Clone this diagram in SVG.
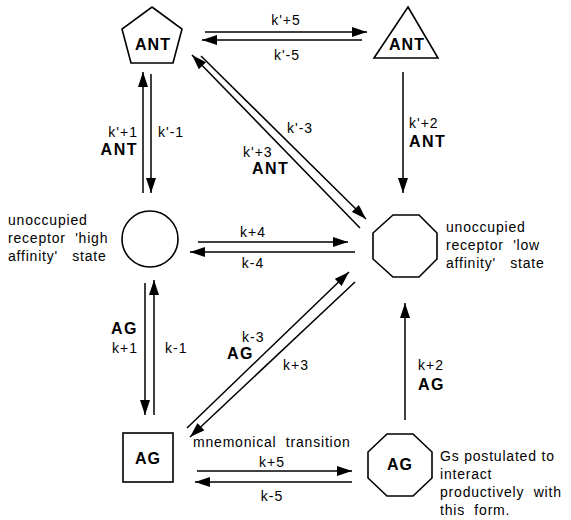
<svg xmlns="http://www.w3.org/2000/svg" width="571" height="520" viewBox="0 0 571 520">
<style>
text{font-family:"Liberation Sans",Arial,sans-serif;fill:#000}
.lb{font-size:14px;letter-spacing:1px}
.bd{font-size:16px;font-weight:bold;letter-spacing:1.5px}
.nd{font-size:16px;font-weight:bold;letter-spacing:1px;text-anchor:middle}
.tx{font-size:14px;letter-spacing:0.8px}
.sh{fill:#fff;stroke:#000;stroke-width:1.6}
.cn line{stroke:#000;stroke-width:1.5;marker-end:url(#ah)}
</style>
<defs>
<marker id="ah" markerWidth="15" markerHeight="10" refX="15" refY="5" orient="auto" markerUnits="userSpaceOnUse">
<path d="M0,0L15,5L0,10z" fill="#000"/>
</marker>
</defs>
<rect width="571" height="520" fill="#fff"/>

<g id="connectors" class="cn">
<line x1="205" y1="32" x2="367" y2="32"/>
<line x1="362" y1="40" x2="202" y2="40"/>
<line x1="143" y1="193" x2="143" y2="72"/>
<line x1="151" y1="74" x2="151" y2="193"/>
<line x1="360" y1="228" x2="192" y2="55"/>
<line x1="201" y1="56" x2="366" y2="219"/>
<line x1="403" y1="72" x2="403" y2="193"/>
<line x1="198" y1="242" x2="348" y2="242"/>
<line x1="355" y1="252" x2="190" y2="252"/>
<line x1="145" y1="283" x2="145" y2="415"/>
<line x1="154" y1="415" x2="154" y2="280"/>
<line x1="187" y1="428" x2="349" y2="272"/>
<line x1="355" y1="282" x2="190" y2="437"/>
<line x1="405" y1="420" x2="405" y2="303"/>
<line x1="197" y1="471" x2="352" y2="471"/>
<line x1="352" y1="482" x2="195" y2="482"/>
</g>

<g id="labels">
<text class="lb" x="286" y="25" text-anchor="middle">k'+5</text>
<text class="lb" x="287" y="60" text-anchor="middle">k'-5</text>
<text class="lb" x="138" y="137" text-anchor="end">k'+1</text>
<text class="bd" x="138" y="155" text-anchor="end">ANT</text>
<text class="lb" x="158" y="137">k'-1</text>
<text class="lb" x="287" y="133">k'-3</text>
<text class="lb" x="243" y="157">k'+3</text>
<text class="bd" x="252" y="174">ANT</text>
<text class="lb" x="409" y="128">k'+2</text>
<text class="bd" x="409" y="147">ANT</text>
<text class="lb" x="253" y="237" text-anchor="middle">k+4</text>
<text class="lb" x="253" y="268" text-anchor="middle">k-4</text>
<text class="bd" x="138" y="334" text-anchor="end">AG</text>
<text class="lb" x="138" y="353" text-anchor="end">k+1</text>
<text class="lb" x="165" y="353">k-1</text>
<text class="lb" x="242" y="342">k-3</text>
<text class="bd" x="227" y="359">AG</text>
<text class="lb" x="283" y="370">k+3</text>
<text class="lb" x="418" y="370">k+2</text>
<text class="bd" x="418" y="390">AG</text>
<text class="tx" x="193" y="447" xml:space="preserve">mnemonical  transition</text>
<text class="lb" x="272" y="467" text-anchor="middle">k+5</text>
<text class="lb" x="272" y="501" text-anchor="middle">k-5</text>
</g>

<g id="node-ant-pentagon">
<polygon class="sh" points="152,7 182,29 173,63 131,63 122,29"/>
<text class="nd" x="153" y="50">ANT</text>
</g>

<g id="node-ant-triangle">
<polygon class="sh" points="408,7 438,58 374,58"/>
<text class="nd" x="407" y="50">ANT</text>
</g>

<g id="node-high-affinity">
<circle class="sh" cx="150" cy="239" r="28"/>
<text class="tx" x="8" y="225">unoccupied</text>
<text class="tx" x="8" y="243" xml:space="preserve">receptor  'high</text>
<text class="tx" x="8" y="261" xml:space="preserve">affinity'   state</text>
</g>

<g id="node-low-affinity">
<polygon class="sh" points="393,215 419,215 437,233 437,259 419,277 393,277 373,259 373,233"/>
<text class="tx" x="446" y="232">unoccupied</text>
<text class="tx" x="446" y="250" xml:space="preserve">receptor  'low</text>
<text class="tx" x="446" y="268" xml:space="preserve">affinity'   state</text>
</g>

<g id="node-ag-square">
<rect class="sh" x="123" y="433" width="50" height="49"/>
<text class="nd" x="148" y="464" style="font-size:16px">AG</text>
</g>

<g id="node-ag-octagon">
<polygon class="sh" points="387,434 413,434 432,452 432,478 413,496 387,496 368,478 368,452"/>
<text class="nd" x="400" y="470" style="font-size:16px">AG</text>
<text class="tx" x="440" y="461">Gs postulated to</text>
<text class="tx" x="440" y="479">interact</text>
<text class="tx" x="440" y="497" xml:space="preserve">productively  with</text>
<text class="tx" x="440" y="515" xml:space="preserve">this  form.</text>
</g>
</svg>
